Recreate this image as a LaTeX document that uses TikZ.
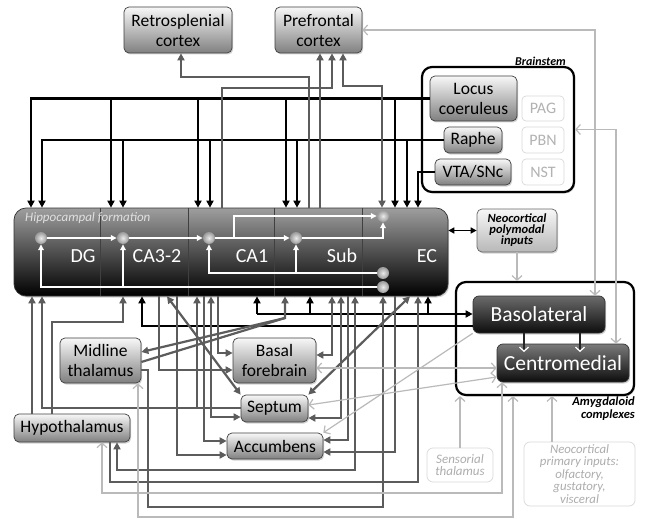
\documentclass[tikz,border=0pt]{standalone}
\usepackage{fontspec}
\setmainfont{Carlito}
\usetikzlibrary{arrows.meta,shadows}
\newcommand\myfs[2]{\fontsize{#1}{#2}\selectfont}
\begin{document}
\begin{tikzpicture}[x=1pt,y=-1pt,
  shad/.style={drop shadow={opacity=0.35,shadow xshift=1.2pt,shadow yshift=-1.5pt}},
  box/.style={draw=black!75, line width=0.7pt, rounded corners=5pt, top color=black!3, bottom color=black!50, shad, align=center, inner sep=0pt, font=\myfs{17.5}{20}, text=black},
  darkbox/.style={draw=black!80, line width=0.7pt, rounded corners=6pt, top color=black!55, bottom color=black!95, shad, inner sep=0pt, text=white, font=\myfs{21.5}{24}},
  ghost/.style={draw=black!15, line width=0.7pt, rounded corners=4pt, fill=white, text=black!30, inner sep=0pt, font=\myfs{16}{18}},
  ghosttwo/.style={draw=black!15, line width=0.7pt, rounded corners=6pt, fill=white, text=black!32, inner sep=0pt, align=center},
  group/.style={draw=black, line width=2.2pt, rounded corners=10pt, fill=white, shad, inner sep=0pt},
  blk/.style={draw=black, line width=2.2pt, >={Triangle[length=7pt,width=7pt]}},
  dg/.style={draw=black!64, line width=2.2pt, >={Triangle[length=7pt,width=7pt]}},
  lg/.style={draw=black!27, line width=1.2pt, >={Straight Barb[length=4.5pt,width=10pt]}},
  wa/.style={draw=white, line width=1.5pt, >={Triangle[length=6pt,width=5.5pt]}},
  ballst/.style={circle, minimum size=12pt, inner sep=0pt, inner color=black!8, outer color=black!40},
  hflabel/.style={text=white, font=\myfs{20}{20}}
]
\fill[white] (0,0) rectangle (646,519);
\useasboundingbox (0,0) rectangle (646,519);

% group boxes
\node[group, minimum width=152pt, minimum height=125pt] (bs) at (498,129.5) {};
\node[group, minimum width=178pt, minimum height=113pt] (amyg) at (545,338.5) {};

% nodes
\node[box, minimum width=108pt, minimum height=46pt] (retro) at (178,30) {Retrosplenial\\cortex};
\node[box, minimum width=87pt, minimum height=46pt] (pref) at (318.5,30) {Prefrontal\\cortex};
\node[box, minimum width=87pt, minimum height=45pt] (lc) at (473.5,98.5) {Locus\\coeruleus};
\node[box, minimum width=58pt, minimum height=26pt] (raphe) at (473,140) {Raphe};
\node[box, minimum width=76pt, minimum height=26pt] (vta) at (473,172) {VTA/SNc};
\node[ghost, minimum width=42pt, minimum height=25pt] (pag) at (543,108.5) {PAG};
\node[ghost, minimum width=42pt, minimum height=26pt] (pbn) at (543,140) {PBN};
\node[ghost, minimum width=42pt, minimum height=26pt] (nst) at (543,172) {NST};
\node[font=\bfseries\itshape\myfs{12}{14}, anchor=east, inner sep=0pt] (bslab) at (566,61) {Brainstem};

\node[draw=black!80, line width=0.7pt, rounded corners=12pt, top color=black!38, bottom color=black, shad, minimum width=434pt, minimum height=88pt, inner sep=0pt] (hf) at (231,252) {};

\node[box, minimum width=80pt, minimum height=43pt, top color=black!3, bottom color=black!28, draw=black!60, font=\bfseries\itshape\myfs{12.5}{11}] (npi) at (517,230.5) {Neocortical\\polymodal\\inputs};

\node[darkbox, minimum width=132pt, minimum height=37pt, top color=black!58] (baso) at (539,314.5) {Basolateral};
\node[darkbox, minimum width=132pt, minimum height=38pt, top color=black!52] (centro) at (563,363) {Centromedial};
\node[font=\bfseries\itshape\myfs{12.5}{12.5}, align=right, anchor=north east, inner sep=0pt] (amlab) at (635,397) {Amygdaloid\\complexes};

\node[box, minimum width=81pt, minimum height=45pt] (midline) at (100.5,360.5) {Midline\\thalamus};
\node[box, minimum width=83pt, minimum height=45pt] (bf) at (274.5,360.5) {Basal\\forebrain};
\node[box, minimum width=67pt, minimum height=27pt] (septum) at (274.5,408.5) {Septum};
\node[box, minimum width=116pt, minimum height=28pt] (hypo) at (72,428) {Hypothalamus};
\node[box, minimum width=96pt, minimum height=26pt] (acc) at (275,446) {Accumbens};
\node[ghosttwo, minimum width=66pt, minimum height=34pt, font=\itshape\myfs{13}{12.5}] (st) at (460,465) {Sensorial\\thalamus};
\node[ghosttwo, minimum width=111pt, minimum height=64pt, font=\itshape\myfs{12.8}{12.4}] (nprim) at (579.5,474) {Neocortical\\primary inputs:\\olfactory,\\gustatory,\\visceral};

% hippocampal internal divisions
\foreach \x in {100,188,274,362} \draw[black!75, line width=0.6pt] (\x,0 |- hf.north) -- (\x,0 |- hf.south);
\node[anchor=west, text=black!12, font=\itshape\myfs{13}{13}, inner sep=0pt] (hflab) at (25,218) {Hippocampal formation};
\node[hflabel] (tdg) at (83,256) {DG};
\node[hflabel] (tca3) at (157,256) {CA3-2};
\node[hflabel] (tca1) at (252,256) {CA1};
\node[hflabel] (tsub) at (342,256) {Sub};
\node[hflabel] (tec) at (427,256) {EC};

% balls
\node[ballst] (bdg) at (41,238) {};
\node[ballst] (bca3) at (123,238) {};
\node[ballst] (bca1) at (209,238) {};
\node[ballst] (bsub) at (296,238) {};
\node[ballst] (becone) at (383,216) {};
\node[ballst] (bectwo) at (383,273) {};
\node[ballst] (becthree) at (383,287) {};

% white internal arrows
\draw[wa,->] (bdg) -- (bca3);
\draw[wa,->] (bca3) -- (bca1);
\draw[wa,->] (bca1) -- (bsub);
\draw[wa,->] (bsub) -- (383,238) -- (becone);
\draw[wa,->] (234,238) -- (234,216) -- (becone);
\draw[wa,->] (bectwo) -- (209,273) -- (bca1);
\draw[wa,->] (296,273) -- (bsub);
\draw[wa,->] (becthree) -- (41,287) -- (bdg);
\draw[wa,->] (123,287) -- (bca3);

% brainstem to hippocampus
\draw[blk,->] (lc.west) -| (31,0 |- hf.north);
\foreach \x in {111,198,286,395} \draw[blk,->] (\x,98.5) -- (\x,0 |- hf.north);
\draw[blk,->] (raphe.west) -| (42,0 |- hf.north);
\foreach \x in {123,210,297,407} \draw[blk,->] (\x,140) -- (\x,0 |- hf.north);
\draw[blk,->] (vta.west) -| (418,0 |- hf.north);

% hippocampus to cortices
\draw[dg,->] (309,0 |- hf.north) |- (181,77) -- (181,0 |- retro.south);
\draw[dg,->] (320,0 |- hf.north) -- (320,0 |- pref.south);
\draw[dg,->] (222,0 |- hf.north) |- (332,88) -- (332,0 |- pref.south);
\draw[dg,<->] (343,0 |- pref.south) |- (382,86) -- (382,0 |- hf.north);

% light gray long connectors on the right
\draw[lg,<->] (pref.east) -- (595,30) -- (595,0 |- baso.north);
\draw[lg,<->] (bs.east) -- (616,129.5) -- (616,0 |- centro.north);
\draw[lg,->] (npi.south) -- (npi.south |- amyg.north);
\draw[lg,->] (st.north) -- (st.north |- amyg.south);
\draw[lg,->] (552,0 |- nprim.north) -- (552,0 |- amyg.south);

% EC <-> neocortical polymodal
\draw[blk,line width=1.8pt,<->,>={Triangle[length=6pt,width=6pt]}] (hf.east |- npi.west) -- (npi.west);

% basolateral -> centromedial
\foreach \x in {524,580} \draw[draw=black!85, line width=1.3pt, -{Straight Barb[length=4pt,width=9pt,color=white]}] (\x,0 |- baso.south) -- (\x,352);

% basolateral <-> hippocampus (black)
\draw[blk,->] (257,314) -- (baso.west |- 0,314);
\foreach \x in {257,310,428} \draw[blk,->] (\x,314) -- (\x,0 |- hf.south);
\draw[blk,->] (baso.west |- 0,326) -- (142,326) -- (142,0 |- hf.south);

% dark gray lower connectors
\draw[dg,->] (32,0 |- hypo.north) -- (32,0 |- hf.south);
\draw[dg,->] (52,0 |- hypo.north) -- (52,322) -- (123,322) -- (123,0 |- hf.south);
\draw[dg,->] (septum.west |- 0,408) -- (42,408) -- (42,0 |- hf.south);
\draw[dg,->] (197,408) -- (197,0 |- hf.south);
\draw[dg,->] (159,0 |- hf.south) |- (bf.west |- 0,370);
\draw[dg,<->] (167,0 |- hf.south) -- (septum.north west);
\draw[dg,->] (177,0 |- hf.south) |- (acc.west |- 0,455);
\draw[dg,->] (204,0 |- hf.south) |- (acc.west |- 0,441);
\draw[dg,<->] (211,0 |- hf.south) |- (septum.west |- 0,417);
\draw[dg,->] (218,0 |- hf.south) |- (bf.west |- 0,353);
\draw[dg,->] (285,318) -- (midline.east |- 0,352);
\draw[dg,->] (midline.east |- 0,362) -- (285,318) -- (285,0 |- hf.south);
\draw[dg,<->] (332,0 |- hf.south) |- (bf.east |- 0,355);
\draw[dg,<->] (341,0 |- hf.south) |- (septum.east |- 0,418);
\draw[dg,->] (348,0 |- hf.south) |- (acc.east |- 0,440);
\draw[dg,<->] (355,0 |- hf.south) |- (117,470) -- (117,0 |- hypo.south);
\draw[dg,->] (midline.east |- 0,370) -- (148,370) |- (383,507) -- (383,0 |- hf.south);
\draw[dg,->] (395,0 |- hf.south) |- (acc.east |- 0,452);
\draw[dg,->] (110,0 |- hypo.south) |- (418,482) -- (418,0 |- hf.south);
\draw[dg,<->] (410,0 |- hf.south) -- (septum.north east);

% light gray lower connectors
\draw[lg,<->] (bf.east |- 0,368) -- (centro.west |- 0,368);
\draw[lg,<->] (septum.east |- 0,405) -- (centro.west |- 0,377);
\draw[lg,->] (baso.south west) -- (acc.north east);
\draw[lg,<->] (102,0 |- hypo.south) |- (502,493) -- (502,0 |- centro.south);
\draw[lg,<->] (138,0 |- midline.south) |- (513,517) -- (513,0 |- amyg.south);
\end{tikzpicture}
\end{document}
